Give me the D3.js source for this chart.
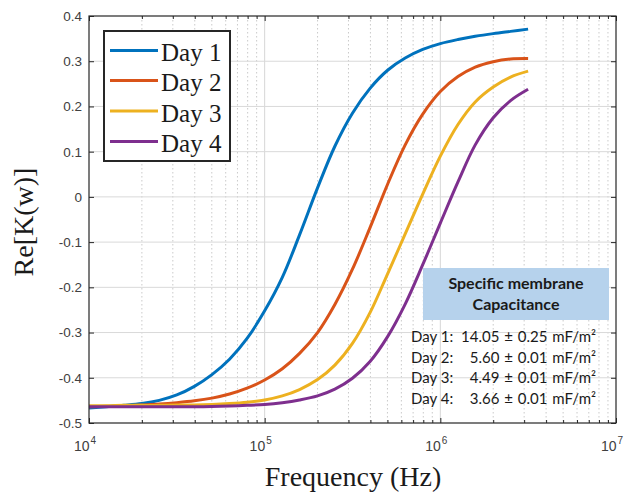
<!DOCTYPE html>
<html>
<head>
<meta charset="utf-8">
<script src="https://cdn.jsdelivr.net/npm/d3@7"></script>
<style>
  html, body { margin: 0; padding: 0; background: #fff; }
  svg { display: block; }
</style>
</head>
<body>
<svg id="chart" width="627" height="493"></svg>
<script>
// Sampled frequencies (Hz) shared by every series
const frequency = [
  1.00e4, 1.26e4, 1.58e4, 2.00e4, 2.51e4, 3.16e4, 3.98e4, 5.01e4, 6.31e4, 7.94e4,
  1.00e5, 1.26e5, 1.58e5, 2.00e5, 2.51e5, 3.16e5, 3.98e5, 5.01e5, 6.31e5, 7.94e5,
  1.00e6, 1.26e6, 1.58e6, 2.00e6, 2.51e6, 3.16e6
];

// Re[K(w)] for each measurement day
const day1 = [
  -0.467, -0.464, -0.461, -0.457, -0.450, -0.438, -0.419, -0.393, -0.359, -0.313,
  -0.252, -0.178, -0.084, 0.020, 0.112, 0.185, 0.240, 0.280, 0.307, 0.326,
  0.339, 0.348, 0.355, 0.361, 0.366, 0.371
];
const day2 = [
  -0.464, -0.463, -0.462, -0.460, -0.458, -0.455, -0.451, -0.445, -0.436, -0.423,
  -0.405, -0.380, -0.346, -0.300, -0.238, -0.160, -0.068, 0.028, 0.115, 0.183,
  0.233, 0.266, 0.287, 0.299, 0.305, 0.306
];
const day3 = [
  -0.462, -0.462, -0.461, -0.461, -0.461, -0.460, -0.460, -0.459, -0.457, -0.454,
  -0.449, -0.440, -0.426, -0.404, -0.372, -0.324, -0.256, -0.170, -0.082, 0.006,
  0.090, 0.160, 0.210, 0.243, 0.265, 0.278
];
const day4 = [
  -0.464, -0.464, -0.464, -0.464, -0.464, -0.464, -0.464, -0.4635, -0.4625, -0.461,
  -0.459, -0.455, -0.449, -0.440, -0.425, -0.401, -0.364, -0.309, -0.237, -0.150,
  -0.058, 0.033, 0.115, 0.175, 0.213, 0.238
];

const seriesNames = ["Day 1", "Day 2", "Day 3", "Day 4"];
const seriesValues = [day1, day2, day3, day4];
const seriesColors = ["#0072BD", "#D95319", "#EDB120", "#7E2F8E"];

// Axis ticks
const xDecades = [1e4, 1e5, 1e6, 1e7];
const xDecadeExponents = ["4", "5", "6", "7"];
const yTicks = [-0.5, -0.4, -0.3, -0.2, -0.1, 0, 0.1, 0.2, 0.3, 0.4];

// Membrane capacitance annotation
const capTitle = ["Specific membrane", "Capacitance"];
const capDays = ["Day 1:", "Day 2:", "Day 3:", "Day 4:"];
const capValues = ["14.05 \u00b1 0.25 mF/m\u00b2", "5.60 \u00b1 0.01 mF/m\u00b2",
                   "4.49 \u00b1 0.01 mF/m\u00b2", "3.66 \u00b1 0.01 mF/m\u00b2"];

const svg = d3.select("#chart");
const plot = { left: 89, top: 16, right: 616, bottom: 423 };

const x = d3.scaleLog().domain([1e4, 1e7]).range([plot.left, plot.right]);
const y = d3.scaleLinear().domain([-0.5, 0.4]).range([plot.bottom, plot.top]);

// Minor decade positions (2..9 × 10^n)
const minorX = [];
for (let d = 1e4; d < 1e7; d *= 10) {
  for (let m = 2; m <= 9; m++) minorX.push(d * m);
}

const grid = svg.append("g");
// minor vertical grid (dotted)
grid.selectAll("line.minor").data(minorX).join("line")
  .attr("x1", d => x(d)).attr("x2", d => x(d))
  .attr("y1", plot.top).attr("y2", plot.bottom)
  .attr("stroke", "#bdbdbd").attr("stroke-width", 0.8)
  .attr("stroke-dasharray", "1.5,2.5");
// major vertical grid
grid.selectAll("line.major").data(xDecades.slice(1, 3)).join("line")
  .attr("x1", d => x(d)).attr("x2", d => x(d))
  .attr("y1", plot.top).attr("y2", plot.bottom)
  .attr("stroke", "#d6d6d6").attr("stroke-width", 1);
// horizontal grid
grid.selectAll("line.h").data(yTicks.slice(1, -1)).join("line")
  .attr("x1", plot.left).attr("x2", plot.right)
  .attr("y1", d => y(d)).attr("y2", d => y(d))
  .attr("stroke", "#d9d9d9").attr("stroke-width", 1);

// Curves
const line = d3.line()
  .x(d => x(d[0]))
  .y(d => y(d[1]))
  .curve(d3.curveCatmullRom.alpha(0.5));

const curves = svg.append("g");
seriesValues.forEach((vals, i) => {
  curves.append("path")
    .datum(frequency.map((f, j) => [f, vals[j]]))
    .attr("d", line)
    .attr("fill", "none")
    .attr("stroke", seriesColors[i])
    .attr("stroke-width", 3)
    .attr("stroke-linejoin", "round")
    .attr("stroke-linecap", "butt");
});

// Axes frame with inward ticks, mirrored on top and right
const axisColor = "#262626";
const axes = svg.append("g");

const yLeft = d3.axisLeft(y).tickValues(yTicks).tickSize(-5).tickFormat("");
const yRight = d3.axisRight(y).tickValues(yTicks).tickSize(-5).tickFormat("");
axes.append("g").attr("transform", `translate(${plot.left},0)`).call(yLeft);
axes.append("g").attr("transform", `translate(${plot.right},0)`).call(yRight);

const xBottomMajor = d3.axisBottom(x).tickValues(xDecades).tickSize(-5).tickFormat("");
const xBottomMinor = d3.axisBottom(x).tickValues(minorX).tickSize(-3).tickFormat("");
const xTopMajor = d3.axisTop(x).tickValues(xDecades).tickSize(-5).tickFormat("");
const xTopMinor = d3.axisTop(x).tickValues(minorX).tickSize(-3).tickFormat("");
axes.append("g").attr("transform", `translate(0,${plot.bottom})`).call(xBottomMajor);
axes.append("g").attr("transform", `translate(0,${plot.bottom})`).call(xBottomMinor);
axes.append("g").attr("transform", `translate(0,${plot.top})`).call(xTopMajor);
axes.append("g").attr("transform", `translate(0,${plot.top})`).call(xTopMinor);

axes.selectAll(".domain").remove();
axes.selectAll(".tick line").attr("stroke", axisColor).attr("stroke-width", 1);

svg.append("rect")
  .attr("x", plot.left).attr("y", plot.top)
  .attr("width", plot.right - plot.left).attr("height", plot.bottom - plot.top)
  .attr("fill", "none").attr("stroke", axisColor).attr("stroke-width", 1.2);

// Y tick labels (plain hyphen for negatives)
const tickFont = "'Liberation Sans', Arial, sans-serif";
svg.append("g").selectAll("text").data(yTicks).join("text")
  .attr("x", plot.left - 7)
  .attr("y", d => y(d))
  .attr("dy", "0.36em")
  .attr("text-anchor", "end")
  .attr("font-family", tickFont)
  .attr("font-size", 13.5)
  .attr("fill", "#404040")
  .text(d => d === 0 ? "0" : d.toFixed(1));

// X tick labels as powers of ten
const xLabels = svg.append("g").selectAll("text").data(xDecades).join("text")
  .attr("x", d => x(d) - 4)
  .attr("y", 451)
  .attr("text-anchor", "middle")
  .attr("font-family", tickFont)
  .attr("font-size", 14)
  .attr("fill", "#404040");
xLabels.append("tspan").text("10");
xLabels.append("tspan")
  .attr("font-size", 10)
  .attr("dy", -7)
  .attr("dx", 1)
  .text((d, i) => xDecadeExponents[i]);

// Axis titles
const titleFont = "'Liberation Serif', 'Times New Roman', serif";
svg.append("text")
  .attr("x", 353).attr("y", 486)
  .attr("text-anchor", "middle")
  .attr("font-family", titleFont)
  .attr("font-size", 28)
  .attr("fill", "#1a1a1a")
  .text("Frequency (Hz)");

svg.append("text")
  .attr("transform", "translate(33,222) rotate(-90)")
  .attr("text-anchor", "middle")
  .attr("font-family", titleFont)
  .attr("font-size", 28)
  .attr("fill", "#1a1a1a")
  .text("Re[K(w)]");

// Legend
const legend = svg.append("g");
legend.append("rect")
  .attr("x", 104).attr("y", 31).attr("width", 126).attr("height", 130)
  .attr("fill", "#fff").attr("stroke", "#262626").attr("stroke-width", 2);
const legendRowY = [50.5, 80.5, 111, 141.5];
seriesNames.forEach((name, i) => {
  legend.append("line")
    .attr("x1", 110).attr("x2", 158)
    .attr("y1", legendRowY[i]).attr("y2", legendRowY[i])
    .attr("stroke", seriesColors[i]).attr("stroke-width", 3);
  legend.append("text")
    .attr("x", 161).attr("y", legendRowY[i] + 10.5)
    .attr("font-family", titleFont)
    .attr("font-size", 25)
    .attr("fill", "#1a1a1a")
    .text(name);
});

// Capacitance annotation box and values
const note = svg.append("g");
const noteFont = "Lato, 'Open Sans', sans-serif";
note.append("rect")
  .attr("x", 423).attr("y", 268).attr("width", 186).attr("height", 52)
  .attr("fill", "#b6d2ec");
note.selectAll("text.title").data(capTitle).join("text")
  .attr("x", 516).attr("y", (d, i) => 289 + i * 21)
  .attr("text-anchor", "middle")
  .attr("font-family", noteFont)
  .attr("font-weight", "bold")
  .attr("font-size", 16)
  .attr("fill", "#1a1a1a")
  .text(d => d);
const rowBase = [342, 362.5, 383, 403.5];
note.selectAll("text.day").data(capDays).join("text")
  .attr("x", 411).attr("y", (d, i) => rowBase[i])
  .attr("font-family", noteFont)
  .attr("font-size", 15)
  .attr("fill", "#1a1a1a")
  .text(d => d);
note.selectAll("text.val").data(capValues).join("text")
  .attr("x", 596).attr("y", (d, i) => rowBase[i])
  .attr("text-anchor", "end")
  .attr("font-family", noteFont)
  .attr("font-size", 15)
  .attr("word-spacing", 1)
  .attr("fill", "#1a1a1a")
  .text(d => d);
</script>
</body>
</html>
